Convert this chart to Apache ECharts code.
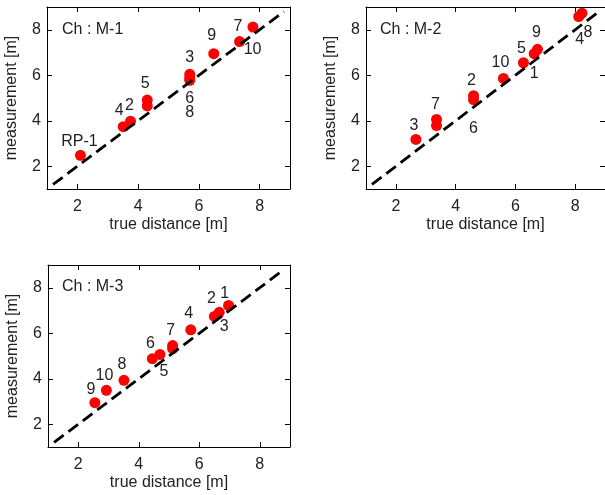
<!DOCTYPE html>
<html>
<head>
<meta charset="utf-8">
<script src="https://cdn.jsdelivr.net/npm/echarts@6/dist/echarts.min.js"></script>
<style>
  html, body { margin: 0; padding: 0; background: #fff; }
  #chart { width: 605px; height: 495px; }
</style>
</head>
<body>
<div id="chart"></div>
<script>
// Axis range and tick labels shared by all three panels
const axisRange = [1, 9];
const tickValues = [2, 4, 6, 8];
// Ideal response y = x, drawn as a dashed reference line
const refLine = [1.2, 8.8];

// Channel M-1: true distance vs. measurement per reference point
const m1Ids  = ['RP-1', '4', '2', '5', '', '3', '6', '8', '9', '10', '7'];
const m1True = [2.10, 3.51, 3.75, 4.30, 4.30, 5.70, 5.70, 5.70, 6.49, 7.34, 7.78];
const m1Meas = [2.48, 3.74, 3.98, 4.91, 4.65, 6.04, 5.90, 5.78, 6.95, 7.48, 8.12];

// Channel M-2
const m2Ids  = ['3', '7', '', '2', '6', '10', '5', '1', '9', '4', '8'];
const m2True = [2.67, 3.36, 3.36, 4.60, 4.60, 5.60, 6.27, 6.63, 6.74, 8.12, 8.23];
const m2Meas = [3.18, 4.06, 3.79, 5.10, 4.93, 5.86, 6.55, 6.95, 7.14, 8.58, 8.73];

// Channel M-3
const m3Ids  = ['9', '10', '8', '6', '5', '7', '', '4', '2', '3', '1'];
const m3True = [2.55, 2.93, 3.51, 4.45, 4.70, 5.12, 5.12, 5.72, 6.50, 6.66, 6.97];
const m3Meas = [2.95, 3.49, 3.93, 4.88, 5.07, 5.46, 5.32, 6.15, 6.74, 6.92, 7.22];

const channelNames = ['Ch : M-1', 'Ch : M-2', 'Ch : M-3'];

// ---- layout (pixels) ----
const gridBoxes = [
  { left: 47,  top: 7,   width: 243, height: 182 },
  { left: 366, top: 7,   width: 241, height: 182 },
  { left: 48,  top: 265, width: 242, height: 182 }
];
// label offsets [dx, dy] from each marker, same order as the point arrays
const labelOffsets = [
  [[-1,-14],[-4,-16],[-1,-16],[-2,-16],[0,0],[0,-17],[0,21],[0,32],[-2,-18],[13,8],[-15,0]],
  [[-2,-14],[-1,-15],[0,0],[-2,-15],[0,29],[-3,-16],[-2,-14],[0,20],[-1,-17],[1,23],[6,19]],
  [[-4,-13],[-2,-15],[-2,-16],[-2,-15],[4,17],[-2,-15],[0,0],[-2,-16],[-3,-18],[5,14],[-4,-12]]
];
const titlePos = [[62, 22], [380, 22], [62, 279]];

const FONT = "'Liberation Sans', Arial, sans-serif";
const TEXT_COLOR = '#222';
const FONT_SIZE = 16;

const panels = [
  { ids: m1Ids, x: m1True, y: m1Meas },
  { ids: m2Ids, x: m2True, y: m2Meas },
  { ids: m3Ids, x: m3True, y: m3Meas }
];

const grid = [], xAxis = [], yAxis = [], series = [], graphic = [];

function frameAxis(type, gridIndex, position, withLabels) {
  const ax = {
    type: 'value', gridIndex, position,
    min: axisRange[0], max: axisRange[1],
    axisLine: { show: true, onZero: false, lineStyle: { color: '#000', width: 1 } },
    axisTick: { show: true, inside: true, length: 5, customValues: tickValues,
                lineStyle: { color: '#000', width: 1 } },
    axisLabel: { show: withLabels, customValues: tickValues,
                 fontFamily: FONT, fontSize: FONT_SIZE, color: TEXT_COLOR,
                 margin: type === 'x' ? 10 : 6 },
    splitLine: { show: false }
  };
  if (withLabels) {
    ax.nameLocation = 'middle';
    ax.nameTextStyle = { fontFamily: FONT, fontSize: FONT_SIZE, color: TEXT_COLOR };
    if (type === 'x') { ax.name = 'true distance [m]'; ax.nameGap = 28; }
    else { ax.name = 'measurement [m]'; ax.nameGap = 27; }
  }
  return ax;
}

panels.forEach((p, i) => {
  grid.push(Object.assign({ containLabel: false }, gridBoxes[i]));
  xAxis.push(frameAxis('x', i, 'bottom', true));
  xAxis.push(frameAxis('x', i, 'top', false));
  yAxis.push(frameAxis('y', i, 'left', true));
  yAxis.push(frameAxis('y', i, 'right', false));

  const pts = p.x.map((xv, k) => ({
    value: [xv, p.y[k]],
    name: p.ids[k],
    label: { show: p.ids[k] !== '', offset: labelOffsets[i][k] }
  }));

  series.push({
    type: 'scatter',
    xAxisIndex: 2 * i, yAxisIndex: 2 * i,
    symbol: 'circle', symbolSize: 11,
    itemStyle: { color: '#ff0000', opacity: 1 },
    label: {
      position: 'inside',
      formatter: (d) => d.name,
      fontFamily: FONT, fontSize: FONT_SIZE, color: TEXT_COLOR
    },
    emphasis: { disabled: true },
    z: 2,
    data: pts
  });

  series.push({
    type: 'line',
    xAxisIndex: 2 * i, yAxisIndex: 2 * i,
    symbol: 'none',
    lineStyle: { color: '#000', width: 2.8, type: [12, 6] },
    emphasis: { disabled: true },
    z: 3,
    data: [[refLine[0], refLine[0]], [refLine[1], refLine[1]]]
  });

  graphic.push({
    type: 'text',
    left: titlePos[i][0], top: titlePos[i][1],
    style: { text: channelNames[i], font: `${FONT_SIZE}px ${FONT}`, fill: TEXT_COLOR }
  });
});

const chart = echarts.init(document.getElementById('chart'), null, { renderer: 'canvas' });
chart.setOption({
  animation: false,
  backgroundColor: '#fff',
  grid, xAxis, yAxis, series, graphic
});
</script>
</body>
</html>
